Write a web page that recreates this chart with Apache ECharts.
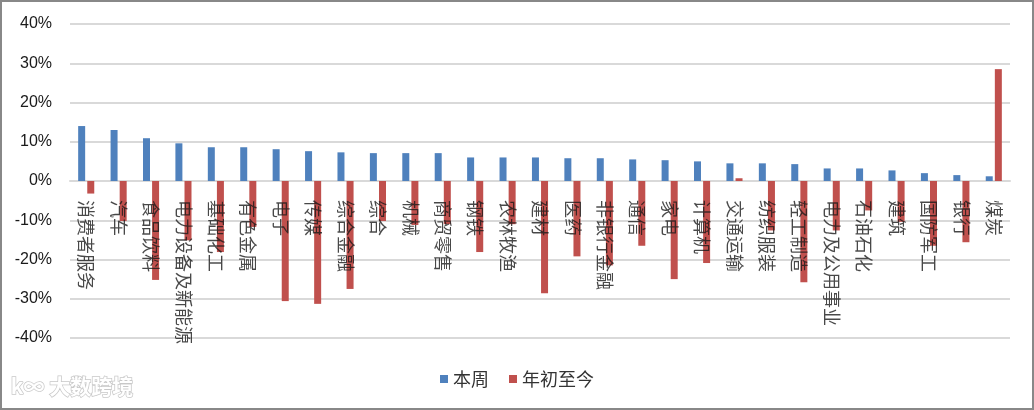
<!DOCTYPE html>
<html><head><meta charset="utf-8">
<script src="https://cdn.jsdelivr.net/npm/echarts@6/dist/echarts.min.js"></script>
<style>html,body{margin:0;padding:0;background:#fff}#c{width:1034px;height:410px}</style>
</head><body><div id="c"></div>
<script>
const categories = ['消费者服务','汽车','食品饮料','电力设备及新能源','基础化工','有色金属','电子','传媒','综合金融','综合','机械','商贸零售','钢铁','农林牧渔','建材','医药','非银行金融','通信','家电','计算机','交通运输','纺织服装','轻工制造','电力及公用事业','石油石化','建筑','国防军工','银行','煤炭'];
const thisWeek = [14.0,13.0,10.9,9.6,8.6,8.6,8.1,7.6,7.3,7.1,7.1,7.1,6.0,6.0,6.0,5.8,5.8,5.5,5.3,5.0,4.5,4.5,4.3,3.2,3.2,2.7,2.0,1.5,1.2];
const ytd = [-3.2,-10.2,-25.2,-15.1,-18.1,-11.7,-30.6,-31.3,-27.5,-10.2,-11.2,-11.0,-18.1,-11.0,-28.6,-19.2,-21.5,-16.5,-25.0,-20.9,0.7,-12.6,-25.8,-12.6,-7.5,-10.4,-16.5,-15.6,28.5];
const yTicks = {min:-40, max:40, interval:10};
const seriesNames = ['本周','年初至今'];

// category labels anchored on the zero line
const labelPoints = categories.map(c => [c, 0]);

const chart = echarts.init(document.getElementById('c'));
chart.setOption({
  animation:false,
  backgroundColor:'#fff',
  grid:{left:70,right:24,top:24,bottom:72,containLabel:false,outerBoundsMode:'none'},
  legend:{
    data:seriesNames, top:365, left:'center', icon:'rect', itemWidth:8, itemHeight:8, itemGap:20,
    textStyle:{fontSize:18,color:'#333',fontFamily:'Noto Sans CJK SC'}
  },
  xAxis:{
    type:'category', data:categories,
    axisLine:{show:true,onZero:true,lineStyle:{color:'#d9d9d9',width:2}},
    axisTick:{show:false},
    axisLabel:{show:false}
  },
  yAxis:{
    type:'value', min:yTicks.min, max:yTicks.max, interval:yTicks.interval,
    axisLine:{show:false}, axisTick:{show:false},
    axisLabel:{formatter:'{value}%',fontSize:16,color:'#1a1a1a',margin:18,fontFamily:'Liberation Sans'},
    splitLine:{lineStyle:{color:'#d9d9d9',width:2}}
  },
  series:[
    {name:seriesNames[0],type:'bar',data:thisWeek,barWidth:7,barGap:'30%',itemStyle:{color:'#4f81bd'}},
    {name:seriesNames[1],type:'bar',data:ytd,barWidth:7,itemStyle:{color:'#c0504d'}},
    {name:'labels',type:'scatter',data:labelPoints,symbolSize:0.1,z:10,silent:true,
     itemStyle:{color:'transparent'},
     label:{show:true,position:'bottom',distance:19,rotate:-90,align:'left',verticalAlign:'middle',
       formatter:p=>p.value[0],fontSize:18,color:'#1a1a1a',fontFamily:'Noto Sans CJK SC'},
     labelLayout:{hideOverlap:false}}
  ],
  graphic:[
    {type:'rect',shape:{x:1,y:1,width:1032,height:408},style:{fill:'none',stroke:'#888',lineWidth:2},silent:true,z:100},
    {type:'text',left:10,top:375,style:{text:'k∞ 大数跨境',fontSize:21,fontWeight:'bold',fill:'#fff',stroke:'#c8c8c8',lineWidth:1.5,fontFamily:'Noto Sans CJK SC'},z:100}
  ]
});
</script></body></html>
